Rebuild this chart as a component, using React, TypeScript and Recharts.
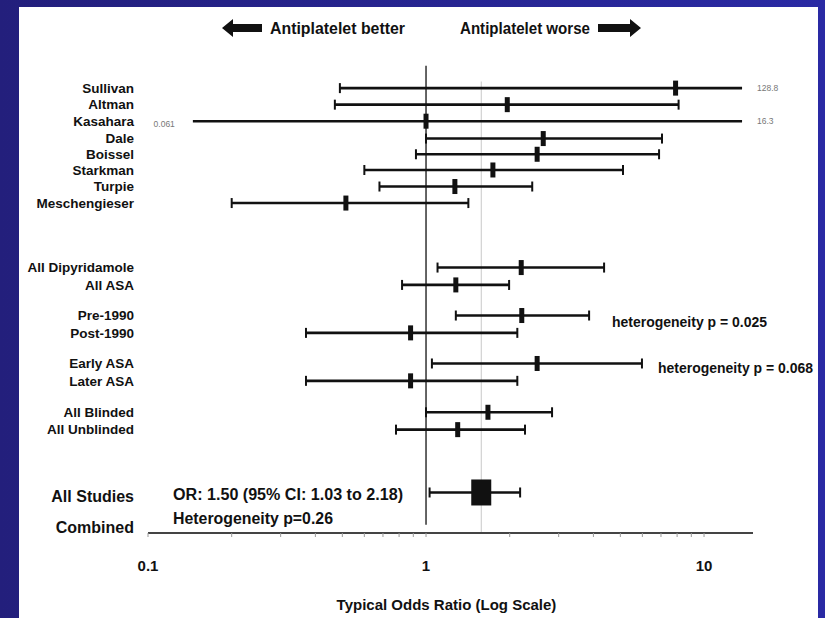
import React from "react";
import { ScatterChart, Scatter, XAxis, YAxis, ReferenceLine, Label } from "recharts";

// rows top to bottom
const LABELS = [
  "Sullivan", "Altman", "Kasahara", "Dale", "Boissel", "Starkman", "Turpie", "Meschengieser",
  "All Dipyridamole", "All ASA", "Pre-1990", "Post-1990", "Early ASA", "Later ASA",
  "All Blinded", "All Unblinded", "All Studies Combined",
];
const ROW_SLOT = [1, 2, 3, 4.05, 5, 5.95, 6.95, 7.95, 11.85, 12.9, 14.75, 15.8, 17.65, 18.7, 20.6, 21.65, 25.45];
const ODDS = [7.9, 1.96, 1.0, 2.64, 2.51, 1.74, 1.27, 0.515, 2.2, 1.28, 2.21, 0.88, 2.51, 0.88, 1.67, 1.3, 1.58];
const CI_LOW = [0.49, 0.47, 0.061, 1.0, 0.92, 0.6, 0.68, 0.2, 1.1, 0.82, 1.28, 0.37, 1.05, 0.37, 1.0, 0.78, 1.03];
const CI_HIGH = [128.8, 8.1, 16.3, 7.06, 6.89, 5.11, 2.41, 1.42, 4.37, 1.99, 3.86, 2.13, 5.98, 2.13, 2.84, 2.27, 2.18];

const X_TICKS = [0.1, 0.2, 0.3, 0.4, 0.5, 0.6, 0.7, 0.8, 0.9, 1, 2, 3, 4, 5, 6, 7, 8, 9, 10];
const X_LABELED = [0.1, 1, 10];

// intervals are cut off at these limits and the true value printed
const DISPLAY_MIN = 0.145;
const DISPLAY_MAX = 13.7;

const FONT = '"Liberation Sans", Arial, sans-serif';
const INK = "#111";

const COMBINED = LABELS.length - 1;

const rows = LABELS.map((name, i) => ({
  name,
  y: ROW_SLOT[i],
  x: ODDS[i],
  lo: CI_LOW[i],
  hi: CI_HIGH[i],
}));

const estimates = rows.slice(0, COMBINED);
const combined = [rows[COMBINED]];

const caps = rows.flatMap((r) => {
  const out: { x: number; y: number }[] = [];
  if (r.lo >= DISPLAY_MIN) out.push({ x: r.lo, y: r.y });
  if (r.hi <= DISPLAY_MAX) out.push({ x: r.hi, y: r.y });
  return out;
});

const cutHigh = rows.filter((r) => r.hi > DISPLAY_MAX).map((r) => ({ x: DISPLAY_MAX, y: r.y, text: String(r.hi) }));
const cutLow = rows.filter((r) => r.lo < DISPLAY_MIN).map((r) => ({ x: DISPLAY_MIN, y: r.y, text: String(r.lo) }));

function RowTick(props: any) {
  const { x, y, payload } = props;
  const i = ROW_SLOT.indexOf(payload.value);
  if (i === COMBINED) {
    return (
      <g>
        <text x={x} y={y + 4} textAnchor="end" dy="0.35em" fontFamily={FONT} fontWeight="bold" fontSize={16} fill={INK}>All Studies</text>
        <text x={x} y={y + 35} textAnchor="end" dy="0.35em" fontFamily={FONT} fontWeight="bold" fontSize={16} fill={INK}>Combined</text>
      </g>
    );
  }
  return (
    <text x={x} y={y} textAnchor="end" dy="0.35em" fontFamily={FONT} fontWeight="bold" fontSize={13.5} fill={INK}>
      {LABELS[i]}
    </text>
  );
}

function Header() {
  return (
    <svg width={825} height={618} style={{ position: "absolute", left: 0, top: 0, pointerEvents: "none" }}>
      <polygon points="222,28 233,19 233,24 262,24 262,32 233,32 233,37" fill={INK} />
      <text x={270} y={28} dy="0.35em" fontFamily={FONT} fontWeight="bold" fontSize={16} fill={INK} textLength={135} lengthAdjust="spacingAndGlyphs">
        Antiplatelet better
      </text>
      <text x={460} y={28} dy="0.35em" fontFamily={FONT} fontWeight="bold" fontSize={16} fill={INK} textLength={130} lengthAdjust="spacingAndGlyphs">
        Antiplatelet worse
      </text>
      <polygon points="641,28 630,19 630,24 598,24 598,32 630,32 630,37" fill={INK} />

      <text x={612} y={322} dy="0.35em" fontFamily={FONT} fontWeight="bold" fontSize={14} fill={INK} textLength={155} lengthAdjust="spacingAndGlyphs">
        heterogeneity p = 0.025
      </text>
      <text x={658} y={368} dy="0.35em" fontFamily={FONT} fontWeight="bold" fontSize={14} fill={INK} textLength={155} lengthAdjust="spacingAndGlyphs">
        heterogeneity p = 0.068
      </text>

      <text x={173} y={494} dy="0.35em" fontFamily={FONT} fontWeight="bold" fontSize={16} fill={INK} textLength={230} lengthAdjust="spacingAndGlyphs">
        OR: 1.50 (95% CI: 1.03 to 2.18)
      </text>
      <text x={173} y={518} dy="0.35em" fontFamily={FONT} fontWeight="bold" fontSize={16} fill={INK} textLength={160} lengthAdjust="spacingAndGlyphs">
        Heterogeneity p=0.26
      </text>
    </svg>
  );
}

export default function App() {
  return (
    <div
      style={{
        position: "relative",
        width: 825,
        height: 618,
        background: "linear-gradient(90deg, #231f7c, #2a2aa4)",
        overflow: "hidden",
      }}
    >
      <style>{"body{margin:0}"}</style>
      <div style={{ position: "absolute", left: 19, top: 7, width: 799, height: 611, background: "#fff" }} />
      <div style={{ position: "absolute", left: 0, top: 0 }}>
        <ScatterChart width={825} height={618} margin={{ top: 60, right: 72, bottom: 5, left: 0 }}>
          <XAxis
            dataKey="x"
            type="number"
            scale="log"
            domain={[0.1, 15]}
            ticks={X_TICKS}
            interval={0}
            tickFormatter={(v) => (X_LABELED.includes(v) ? String(v) : "")}
            height={80}
            tickSize={4}
            tickMargin={23}
            axisLine={{ stroke: "#444", strokeWidth: 2 }}
            tickLine={{ stroke: "#999" }}
            tick={{ fontFamily: FONT, fontWeight: "bold", fontSize: 15, fill: INK }}
          >
            <Label
              value="Typical Odds Ratio (Log Scale)"
              position="insideBottom"
              offset={3}
              dx={-4}
              style={{ fontFamily: FONT, fontWeight: "bold", fontSize: 15, fill: INK }}
            />
          </XAxis>
          <YAxis
            dataKey="y"
            type="number"
            domain={[-0.7, 27.9]}
            reversed
            ticks={ROW_SLOT}
            interval={0}
            width={148}
            tickSize={0}
            tickMargin={14}
            axisLine={false}
            tickLine={false}
            tick={<RowTick />}
          />

          <ReferenceLine segment={[{ x: 1, y: -0.35 }, { x: 1, y: 27.4 }]} stroke={INK} strokeWidth={1.3} />
          <ReferenceLine
            segment={[{ x: ODDS[COMBINED], y: 0.6 }, { x: ODDS[COMBINED], y: 27.9 }]}
            stroke="#c8c8c8"
            strokeWidth={1}
          />

          {rows.map((r) => (
            <ReferenceLine
              key={r.name}
              segment={[
                { x: Math.max(r.lo, DISPLAY_MIN), y: r.y },
                { x: Math.min(r.hi, DISPLAY_MAX), y: r.y },
              ]}
              stroke={INK}
              strokeWidth={2.6}
            />
          ))}

          <Scatter
            data={caps}
            isAnimationActive={false}
            shape={(p: any) => (
              <line x1={p.cx} x2={p.cx} y1={p.cy - 5} y2={p.cy + 5} stroke={INK} strokeWidth={2} />
            )}
          />
          <Scatter
            data={estimates}
            isAnimationActive={false}
            shape={(p: any) => <rect x={p.cx - 2.5} y={p.cy - 7.5} width={5} height={15} fill={INK} />}
          />
          <Scatter
            data={combined}
            isAnimationActive={false}
            shape={(p: any) => <rect x={p.cx - 10} y={p.cy - 13} width={20} height={26} fill={INK} />}
          />
          <Scatter
            data={cutHigh}
            isAnimationActive={false}
            shape={(p: any) => (
              <text x={p.cx + 15} y={p.cy} dy="0.35em" fontFamily={FONT} fontSize={8.5} fill="#777">
                {p.payload.text}
              </text>
            )}
          />
          <Scatter
            data={cutLow}
            isAnimationActive={false}
            shape={(p: any) => (
              <text x={p.cx - 18} y={p.cy + 3} dy="0.35em" textAnchor="end" fontFamily={FONT} fontSize={8.5} fill="#777">
                {p.payload.text}
              </text>
            )}
          />
        </ScatterChart>
      </div>
      <Header />
    </div>
  );
}
